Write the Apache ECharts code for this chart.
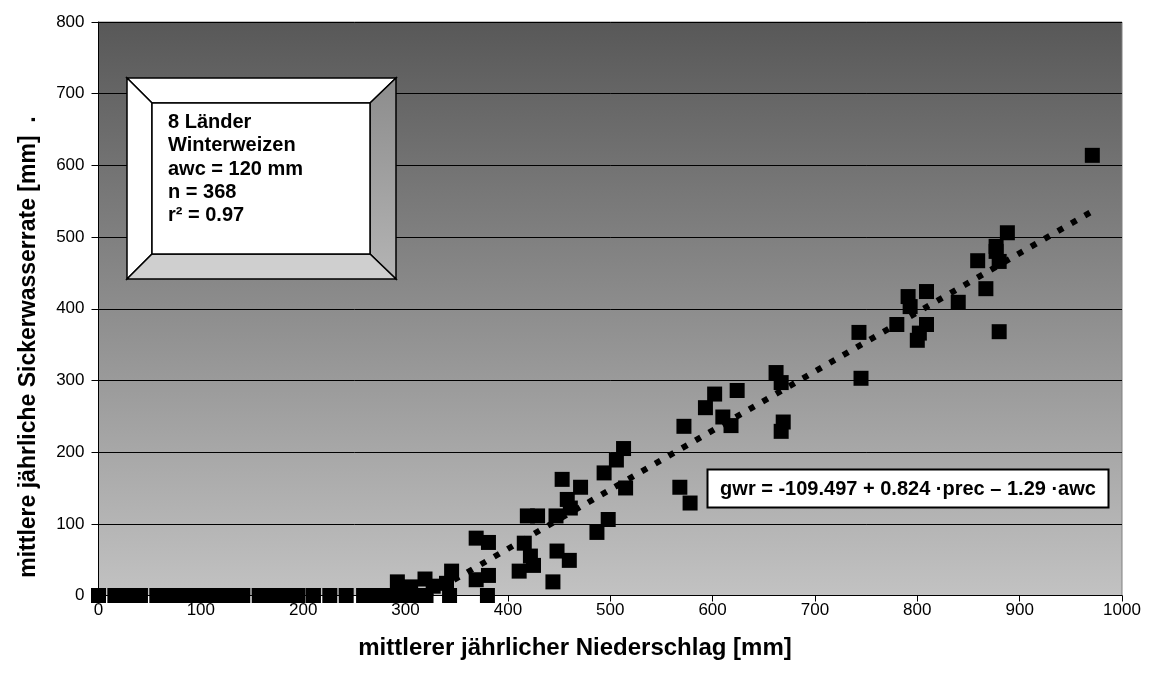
<!DOCTYPE html>
<html>
<head>
<meta charset="utf-8">
<script src="https://cdn.jsdelivr.net/npm/echarts@6/dist/echarts.min.js"></script>
<style>html,body{margin:0;padding:0;background:#fff}#c{width:1151px;height:686px}</style>
</head>
<body>
<div id="c"></div>
<script>
// precipitation values of sites with zero groundwater recharge
const zeroPrec = [0,16,29,41,57,70,82,95,108,121,133,141,157,170,182,195,210,226,242,259,273,287,300,314,320,343,380];
// sites with positive recharge
const prec = [292,305,319,327,340,345,369,381,369,381,411,416,422,425,419,429,447,444,448,460,453,471,458,461,487,498,494,506,513,515,568,578,572,593,602,610,618,624,662,667,669,667,743,745,780,791,793,809,809,802,800,840,859,877,877,880,867,880,888,971];
const gwr  = [19,12,23,13,17,34,80,74,22,28,34,73,55,42,111,111,111,19,62,49,162,151,134,122,88,106,171,189,205,150,151,129,236,262,281,249,237,286,311,297,242,229,367,303,378,417,403,424,378,366,356,409,467,487,480,466,428,368,506,614];
// regression line end points
const trendPrec = [321, 971];
const trendGwr = [0, 536];
const infoLines = ['8 Länder', 'Winterweizen', 'awc = 120 mm', 'n = 368', 'r² = 0.97'];
const equation = 'gwr = -109.497 + 0.824 ·prec – 1.29 ·awc';
const xTitle = 'mittlerer jährlicher Niederschlag [mm]';
const yTitle = 'mittlere jährliche Sickerwasserrate [mm]  .';

const points = zeroPrec.map(p => [p, 0]).concat(prec.map((p, i) => [p, gwr[i]]));
const trend = trendPrec.map((p, i) => [p, trendGwr[i]]);

const FONT = '"Liberation Sans", Arial, sans-serif';
const chart = echarts.init(document.getElementById('c'));
chart.setOption({
  animation: false,
  backgroundColor: '#ffffff',
  grid: {
    left: 98.5, right: 29, top: 22, bottom: 90.5,
    show: true,
    borderColor: '#808080', borderWidth: 1,
    backgroundColor: {type: 'linear', x: 0, y: 0, x2: 0, y2: 1,
      colorStops: [{offset: 0, color: '#585858'}, {offset: 1, color: '#c2c2c2'}]}
  },
  xAxis: {
    type: 'value', min: 0, max: 1000, interval: 100,
    axisLine: {show: true, onZero: false, lineStyle: {color: '#000', width: 1}},
    axisTick: {show: true, inside: false, length: 6, lineStyle: {color: '#000'}},
    axisLabel: {color: '#000', fontSize: 17, fontFamily: FONT, margin: 6, formatter: v => String(v)},
    splitLine: {show: false}
  },
  yAxis: {
    type: 'value', min: 0, max: 800, interval: 100,
    axisLine: {show: true, lineStyle: {color: '#000', width: 1}},
    axisTick: {show: true, inside: false, length: 7, lineStyle: {color: '#000'}},
    axisLabel: {color: '#000', fontSize: 17, fontFamily: FONT, margin: 14, formatter: v => String(v)},
    splitLine: {show: true, lineStyle: {color: '#000', width: 1}}
  },
  series: [
    {
      type: 'scatter', data: points, symbol: 'rect', symbolSize: 15,
      itemStyle: {color: '#000', opacity: 1},
      z: 2
    },
    {
      type: 'line', data: trend, showSymbol: false, symbol: 'none',
      lineStyle: {color: '#000', width: 6, type: [6, 9.5], cap: 'butt', opacity: 1},
      z: 3
    }
  ],
  graphic: [
    // bevelled info box
    {type: 'polygon', z: 10, shape: {points: [[127,78],[396,78],[370,103],[152,103]]}, style: {fill: '#fff', stroke: '#000', lineWidth: 1.5}},
    {type: 'polygon', z: 10, shape: {points: [[127,78],[152,103],[152,254],[127,279]]}, style: {fill: '#fff', stroke: '#000', lineWidth: 1.5}},
    {type: 'polygon', z: 10, shape: {points: [[396,78],[396,279],[370,254],[370,103]]}, style: {fill: {type:'linear',x:0,y:0,x2:0,y2:1,colorStops:[{offset:0,color:'#8c8c8c'},{offset:1,color:'#b4b4b4'}]}, stroke: '#000', lineWidth: 1.5}},
    {type: 'polygon', z: 10, shape: {points: [[127,279],[396,279],[370,254],[152,254]]}, style: {fill: '#cfcfcf', stroke: '#000', lineWidth: 1.5}},
    {type: 'rect', z: 11, shape: {x: 152, y: 103, width: 218, height: 151}, style: {fill: '#fff', stroke: '#000', lineWidth: 1.5}},
    {type: 'text', z: 12, x: 168, y: 111, style: {text: infoLines.join('\n'), font: 'bold 20px ' + FONT, fill: '#000', lineHeight: 23.3, textAlign: 'left', textVerticalAlign: 'top'}},
    // equation box
    {type: 'rect', z: 10, shape: {x: 707.5, y: 469.5, width: 401, height: 38}, style: {fill: '#fff', stroke: '#000', lineWidth: 2}},
    {type: 'text', z: 12, x: 908, y: 489, style: {text: equation, font: 'bold 20px ' + FONT, fill: '#000', textAlign: 'center', textVerticalAlign: 'middle'}},
    // axis titles
    {type: 'text', z: 12, x: 575, y: 648, style: {text: xTitle, font: 'bold 24px ' + FONT, fill: '#000', textAlign: 'center', textVerticalAlign: 'middle'}},
    {type: 'text', z: 12, x: 29, y: 347, rotation: Math.PI / 2, style: {text: yTitle, font: 'bold 23px ' + FONT, fill: '#000', textAlign: 'center', textVerticalAlign: 'middle'}}
  ]
});
</script>
</body>
</html>
